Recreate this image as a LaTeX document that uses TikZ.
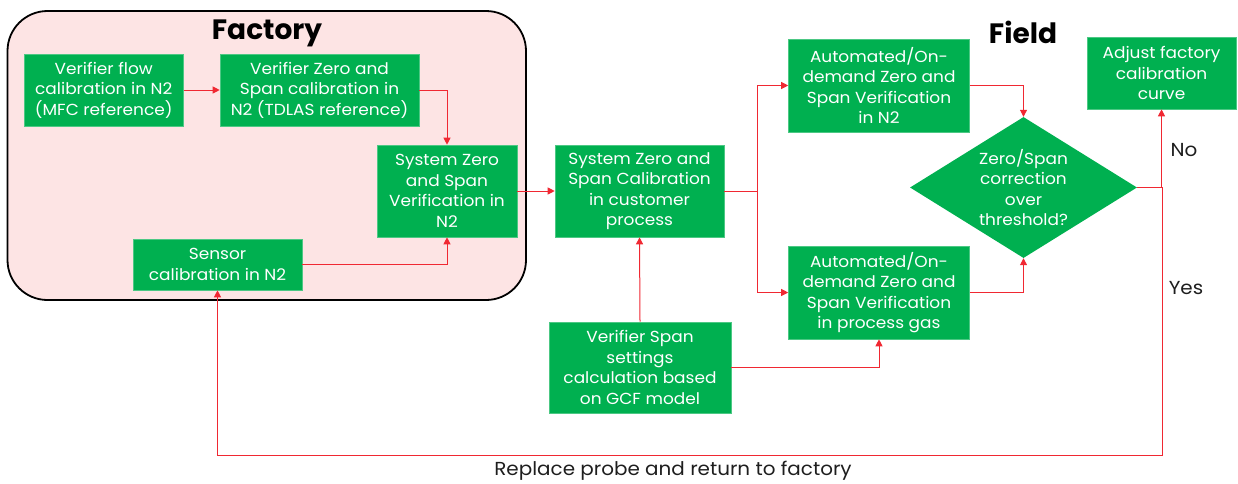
\documentclass[tikz,border=0pt]{standalone}
\usepackage{fontspec}
\setmainfont{Poppins}[FakeStretch=1.06]
\newfontfamily\titlefont{Poppins}
\usetikzlibrary{arrows.meta,shapes.geometric}
\definecolor{boxgreen}{RGB}{0,176,80}
\definecolor{linered}{RGB}{240,40,50}
\definecolor{factpink}{RGB}{253,228,228}
\definecolor{labelgray}{RGB}{30,30,30}
\begin{document}
\begin{tikzpicture}[x=1pt,y=-1pt,
  gbox/.style={fill=boxgreen, draw=boxgreen!70!white, line width=0.6pt, text=white, align=center, inner sep=0pt, font=\fontsize{16}{20.5}\selectfont},
  gdiam/.style={diamond, fill=boxgreen, text=white, align=center, inner sep=0pt, aspect=1.61, font=\fontsize{16}{20.5}\selectfont},
  conn/.style={draw=linered, line width=1pt, -{Triangle[length=7pt,width=7pt]}},
  plain/.style={draw=linered, line width=1pt},
  title/.style={font=\titlefont\fontsize{28}{30}\selectfont\bfseries, text=black},
  lbl/.style={font=\fontsize{18.8}{20}\selectfont, text=labelgray}]
\useasboundingbox (0,0) rectangle (1238,483);
% factory container
\node[draw=black, line width=1.8pt, fill=factpink, rounded corners=40pt, minimum width=518.5pt, minimum height=289pt, inner sep=0pt] (factory) at (266.75,155.5) {};
\node[title] (tfactory) at (267,33) {Factory};
\node[title] (tfield) at (1023,32) {Field};
% boxes
\node[gbox, minimum width=159.5pt, minimum height=72pt] (b1) at (103.75,90) {Verifier flow\\calibration in N2\\(MFC reference)};
\node[gbox, minimum width=199pt, minimum height=72pt] (b2) at (319.5,90) {Verifier Zero and\\Span calibration in\\N2 (TDLAS reference)};
\node[gbox, minimum width=140pt, minimum height=92pt] (b3) at (447,191) {System Zero\\and Span\\Verification in\\N2};
\node[gbox, minimum width=169pt, minimum height=51pt] (b4) at (217.5,264.5) {Sensor\\calibration in N2};
\node[gbox, minimum width=169pt, minimum height=92pt] (b5) at (639.5,191) {System Zero and\\Span Calibration\\in customer\\process};
\node[gbox, minimum width=181pt, minimum height=93pt] (b6) at (879,85.5) {Automated/On-\\demand Zero and\\Span Verification\\in N2};
\node[gbox, minimum width=181pt, minimum height=93pt] (b7) at (879,292.5) {Automated/On-\\demand Zero and\\Span Verification\\in process gas};
\node[gbox, minimum width=182pt, minimum height=91pt] (b8) at (640,367.5) {Verifier Span\\settings\\calculation based\\on GCF model};
\node[gbox, minimum width=149pt, minimum height=72pt] (adj) at (1161.5,73) {Adjust factory\\calibration\\curve};
\node[gdiam, minimum width=227pt, minimum height=141pt] (dec) at (1023.5,187.5) {Zero/Span\\correction\\over\\threshold?};
% junction coordinates
\coordinate (split) at (757,191);
\coordinate (ret) at (1162,455);
% connectors
\draw[conn] (b1.east) -- (b2.west);
\draw[conn] (b2.east) -| (b3.north);
\draw[conn] (b4.east) -| (b3.south);
\draw[conn] (b3.east) -- (b5.west);
\draw[plain] (b5.east) -- (split);
\draw[conn] (split) |- (b6.west);
\draw[conn] (split) |- (b7.west);
\draw[conn] (b8.north) -- (b5.south);
\draw[conn] (b8.east) -| (b7.south);
\draw[conn] (b6.east) -| (dec.north);
\draw[conn] (b7.east) -| (dec.south);
\draw[conn] (dec.east) -| (adj.south);
\draw[conn] (dec.east) -| (ret) -| (b4.south);
% labels
\node[lbl] (lno) at (1184,150) {No};
\node[lbl] (lyes) at (1186,288) {Yes};
\node[lbl] (lret) at (673,471) {Replace probe and return to factory};
\end{tikzpicture}
\end{document}
